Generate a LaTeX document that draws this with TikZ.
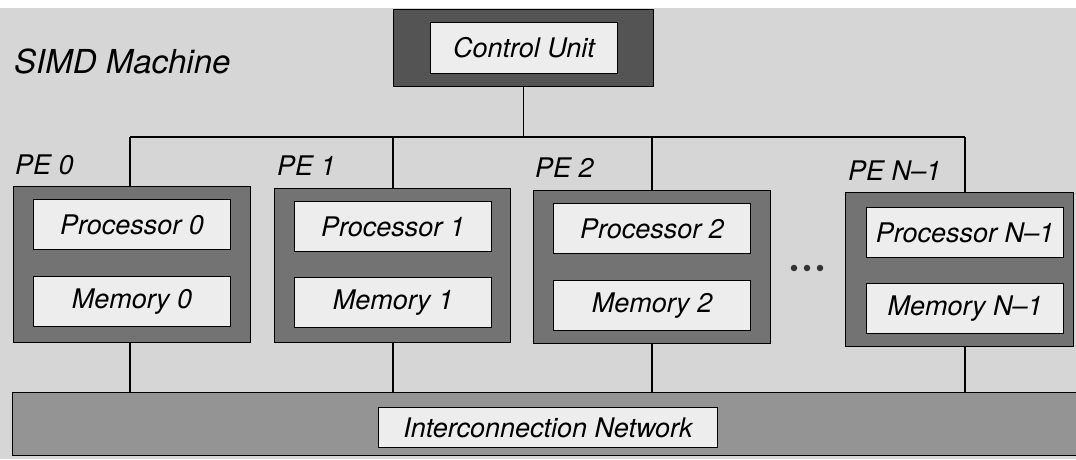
\documentclass[tikz,border=0pt]{standalone}
\usepackage{fontspec}
\setmainfont{TeX Gyre Heros}
\definecolor{bggray}{gray}{0.84}
\definecolor{framegray}{gray}{0.45}
\definecolor{cugray}{gray}{0.33}
\definecolor{netgray}{gray}{0.58}
\definecolor{cellgray}{gray}{0.93}
\newcommand{\lblfont}{\fontsize{27}{30}\selectfont\itshape}
\newcommand{\titlefont}{\fontsize{33}{36}\selectfont\itshape}
\begin{document}
\begin{tikzpicture}[x=1pt,y=-1pt,
  frame/.style={draw=black, line width=1.3pt, fill=framegray, inner sep=0pt, anchor=north west},
  cell/.style={draw=black, line width=1.1pt, fill=cellgray, inner sep=0pt, anchor=north west,
    minimum width=197pt, minimum height=50pt, font=\lblfont},
  pelabel/.style={anchor=base west, inner sep=0pt, font=\lblfont},
  wire/.style={line width=1.4pt},
  dot/.style={circle, fill=black!80, inner sep=0pt, minimum size=6.5pt}]
\useasboundingbox (0,0) rectangle (1076,459);
\fill[white] (0,0) rectangle (1076,459);
\fill[bggray] (0,8) rectangle (1076,459);

% title
\node[anchor=base west, inner sep=0pt, font=\titlefont] (title) at (14,73) {SIMD Machine};

% control unit
\node[frame, fill=cugray, minimum width=260pt, minimum height=77pt] (cu) at (393,9) {};
\node[cell, minimum width=187pt, minimum height=51pt] (cuin) at (430,22) {Control Unit};

% processing elements
\node[frame, minimum width=237pt, minimum height=156pt] (pe0) at (13,186) {};
\node[cell] (proc0) at (33,199) {Processor 0};
\node[cell] (mem0) at (33,276) {Memory 0};
\node[pelabel] (lab0) at (15,174) {PE 0};

\node[frame, minimum width=236pt, minimum height=154pt] (pe1) at (274,188) {};
\node[cell] (proc1) at (294,201) {Processor 1};
\node[cell] (mem1) at (294,277) {Memory 1};
\node[pelabel] (lab1) at (277,175) {PE 1};

\node[frame, minimum width=237pt, minimum height=153pt] (pe2) at (533,190) {};
\node[cell] (proc2) at (553,203) {Processor 2};
\node[cell] (mem2) at (553,280) {Memory 2};
\node[pelabel] (lab2) at (535,177) {PE 2};

\node[frame, minimum width=228pt, minimum height=154pt] (pen) at (845,192) {};
\node[cell] (procn) at (866,207) {Processor N--1};
\node[cell] (memn) at (866,283) {Memory N--1};
\node[pelabel] (labn) at (848,180) {PE N--1};

% ellipsis between PE 2 and PE N-1
\node[dot] (d1) at (794,268) {};
\node[dot] (d2) at (807,268) {};
\node[dot] (d3) at (820,268) {};

% interconnection network
\node[frame, fill=netgray, minimum width=1080pt, minimum height=63pt] (net) at (12,392) {};
\node[cell, minimum width=339pt, minimum height=40pt] (netlbl) at (378,407) {Interconnection Network};

% broadcast bus from the control unit
\coordinate (t0) at (130,137);
\coordinate (t1) at (393,137);
\coordinate (t2) at (652,137);
\coordinate (t3) at (965,137);
\draw[wire] (t0) -- (t3);
\draw[wire] (cu.south) -- (cu.south |- t0);
\draw[wire] (t0) -- (t0 |- pe0.north);
\draw[wire] (t1) -- (t1 |- pe1.north);
\draw[wire] (t2) -- (t2 |- pe2.north);
\draw[wire] (t3) -- (t3 |- pen.north);

% links to the interconnection network
\draw[wire] (t0 |- pe0.south) -- (t0 |- net.north);
\draw[wire] (t1 |- pe1.south) -- (t1 |- net.north);
\draw[wire] (t2 |- pe2.south) -- (t2 |- net.north);
\draw[wire] (t3 |- pen.south) -- (t3 |- net.north);
\end{tikzpicture}
\end{document}
